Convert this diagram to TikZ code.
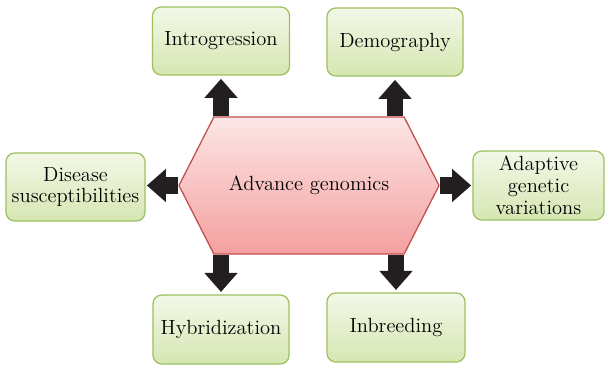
\documentclass[tikz,border=0pt]{standalone}
\usepackage{tikz}
\usetikzlibrary{arrows.meta,shapes.symbols,backgrounds}

\definecolor{boxline}{HTML}{9DC060}
\definecolor{boxtop}{HTML}{F3F8E8}
\definecolor{boxbot}{HTML}{D6E6B2}
\definecolor{hexline}{HTML}{C0504D}
\definecolor{hextop}{HTML}{FCE6E6}
\definecolor{hexbot}{HTML}{F4A09F}
\definecolor{arrowblack}{HTML}{231F20}

\tikzset{
  topic/.style={draw=boxline, line width=0.9pt, rounded corners=0.22cm,
    top color=boxtop, bottom color=boxbot, align=center, inner sep=0pt,
    font=\fontsize{14.6}{15.6}\selectfont},
  core/.style={signal, signal to=west and east, signal pointer angle=126,
    draw=hexline, line width=0.9pt, top color=hextop, bottom color=hexbot,
    minimum width=6.5cm, minimum height=3.425cm, inner sep=0pt,
    font=\fontsize{14.6}{15.6}\selectfont},
  fat/.style={line width=0.4cm, arrowblack,
    -{Triangle[width=0.8cm,length=0.475cm]}}
}

\begin{document}
\begin{tikzpicture}[x=0.025cm, y=-0.025cm]
  \useasboundingbox (0,0) rectangle (605,366);

  \node[core](hex) at (309, 185.5) {Advance genomics};

  \node[topic, minimum width=3.425cm, minimum height=1.7cm](intro) at (221, 41) {Introgression};
  \node[topic, minimum width=3.4cm, minimum height=1.7cm](demo) at (395, 42) {Demography};
  \node[topic, minimum width=3.475cm, minimum height=1.7cm](disease) at (75.5, 187) {Disease\\susceptibilities};
  \node[topic, minimum width=3.275cm, minimum height=1.725cm](adapt) at (538.5, 185.5) {Adaptive\\genetic\\variations};
  \node[topic, minimum width=3.4cm, minimum height=1.725cm](hybrid) at (221, 329.5) {Hybridization};
  \node[topic, minimum width=3.45cm, minimum height=1.725cm](inbreed) at (396, 327.5) {Inbreeding};

  \begin{scope}[on background layer]
    \foreach \b in {intro, demo} {
      \draw[fat, shorten >=0.08cm] (\b.south |- hex.north) -- (\b.south);
    }
    \foreach \b in {hybrid, inbreed} {
      \draw[fat, shorten >=0.06cm] (\b.north |- hex.south) -- (\b.north);
    }
    \draw[fat, shorten >=0.03cm] (hex.west) -- (disease.east |- hex.west);
    \draw[fat, shorten >=0.03cm] (hex.east) -- (adapt.west |- hex.east);
  \end{scope}
\end{tikzpicture}
\end{document}
